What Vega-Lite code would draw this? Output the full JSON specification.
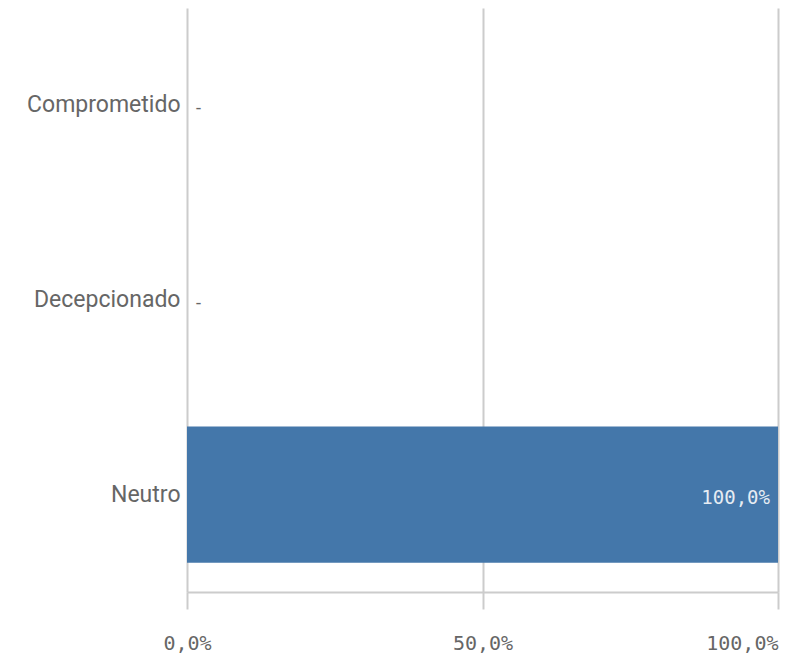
{
  "$schema": "https://vega.github.io/schema/vega-lite/v6.json",
  "width": 591,
  "height": 584,
  "autosize": {"type": "none"},
  "padding": {"left": 187, "top": 8, "right": 13, "bottom": 64},
  "background": "white",
  "config": {"view": {"stroke": null}},
  "data": {
    "values": [
      {"categoria": "Comprometido", "valor": 0},
      {"categoria": "Decepcionado", "valor": 0},
      {"categoria": "Neutro", "valor": 1}
    ]
  },
  "transform": [
    {"calculate": "datum.valor == 0 ? '-' : replace(format(datum.valor, '.1%'), '.', ',')", "as": "etiqueta"}
  ],
  "encoding": {
    "y": {
      "field": "categoria",
      "type": "nominal",
      "sort": ["Comprometido", "Decepcionado", "Neutro"],
      "scale": {"paddingInner": 0.3, "paddingOuter": 0.15},
      "axis": {
        "title": null,
        "domain": false,
        "ticks": false,
        "labelPadding": 7,
        "labelFont": "Roboto",
        "labelFontSize": 23,
        "labelColor": "#666666",
        "labelLimit": 300
      }
    },
    "x": {
      "field": "valor",
      "type": "quantitative",
      "scale": {"domain": [0, 1], "nice": false},
      "axis": {
        "title": null,
        "values": [0, 0.5, 1],
        "labelExpr": "replace(format(datum.value, '.1%'), '.', ',')",
        "labelFont": "DejaVu Sans Mono",
        "labelFontSize": 20,
        "labelColor": "#666666",
        "labelAlign": {"expr": "datum.value == 1 ? 'right' : 'center'"},
        "labelPadding": 24,
        "domainColor": "#cccccc",
        "domainWidth": 2,
        "tickColor": "#cccccc",
        "tickWidth": 2,
        "tickSize": 17,
        "gridColor": "#cccccc",
        "gridWidth": 2
      }
    }
  },
  "layer": [
    {"mark": {"type": "bar", "color": "#4477aa"}},
    {
      "transform": [{"filter": "datum.valor > 0"}],
      "mark": {"type": "text", "align": "right", "baseline": "middle", "dx": -8, "dy": 3, "font": "DejaVu Sans Mono", "fontSize": 19, "color": "#e6ecf3"},
      "encoding": {"text": {"field": "etiqueta"}}
    },
    {
      "transform": [{"filter": "datum.valor == 0"}],
      "mark": {"type": "text", "align": "left", "baseline": "middle", "dx": 9, "dy": 4, "font": "Roboto", "fontSize": 18, "color": "#666666"},
      "encoding": {"text": {"field": "etiqueta"}}
    }
  ]
}
